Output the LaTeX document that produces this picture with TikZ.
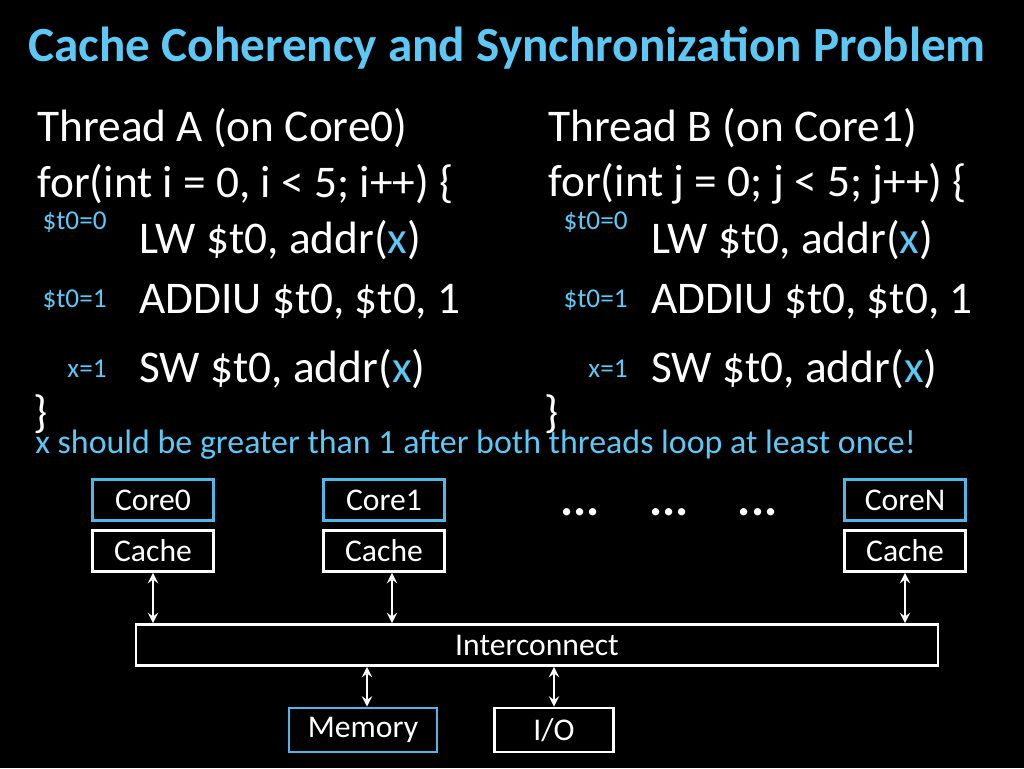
\documentclass[tikz,border=0pt]{standalone}
\usepackage{fontspec}
\setmainfont{Carlito}
\usetikzlibrary{positioning}
\definecolor{titleblue}{HTML}{5BC8F5}
\definecolor{boxblue}{HTML}{4FB8E8}
\begin{document}
\begin{tikzpicture}[x=0.02cm,y=-0.02cm,
  code/.style={anchor=west,text=white,font=\fontsize{25.8}{28}\selectfont,inner sep=0pt},
  reg/.style={anchor=east,text=titleblue,font=\fontsize{15.5}{17}\selectfont,inner sep=0pt},
  box/.style={draw=white,line width=1.5pt,text=white,font=\fontsize{18}{20}\selectfont,inner sep=0pt,minimum height=0.82cm},
  bbox/.style={box,draw=boxblue},
  link/.style={<->,>=stealth,white,line width=1.6pt}]
\fill[black] (0,0) rectangle (1024,768);
\node[anchor=west,text=titleblue,font=\bfseries\fontsize{28}{30}\selectfont,inner sep=0pt] (title) at (28,48) {Cache Coherency and Synchronization Problem};
% thread A
\node[code] (ta) at (37,128) {Thread A (on Core0)};
\node[code] (fa) at (37,184) {for(int i = 0, i < 5; i++) \{};
\node[code] (la) at (139,240) {LW \$t0, addr(\textcolor{titleblue}{x})};
\node[code] (aa) at (139,302) {ADDIU \$t0, \$t0, 1};
\node[code] (sa) at (139,369) {SW \$t0, addr(\textcolor{titleblue}{x})};
\node[code] (ca) at (33,414) {\}};
\node[reg] (ra1) at (107,222) {\$t0=0};
\node[reg] (ra2) at (107,300) {\$t0=1};
\node[reg] (ra3) at (107,369) {x=1};
% thread B
\node[code] (tb) at (548,128) {Thread B (on Core1)};
\node[code] (fb) at (548,184) {for(int j = 0; j < 5; j++) \{};
\node[code] (lb) at (651,240) {LW \$t0, addr(\textcolor{titleblue}{x})};
\node[code] (ab) at (651,302) {ADDIU \$t0, \$t0, 1};
\node[code] (sb) at (651,369) {SW \$t0, addr(\textcolor{titleblue}{x})};
\node[code] (cb) at (544,414) {\}};
\node[reg] (rb1) at (628,222) {\$t0=0};
\node[reg] (rb2) at (628,300) {\$t0=1};
\node[reg] (rb3) at (628,369) {x=1};
\node[anchor=west,text=titleblue,font=\fontsize{19.3}{21}\selectfont,inner sep=0pt] (note) at (35,445) {x should be greater than 1 after both threads loop at least once!};
% hardware
\node[bbox,minimum width=2.42cm] (core0) at (153,500) {Core0};
\node[box,minimum width=2.42cm] (cache0) at (153,551) {Cache};
\node[bbox,minimum width=2.42cm] (core1) at (384,500) {Core1};
\node[box,minimum width=2.42cm] (cache1) at (384,551) {Cache};
\node[bbox,minimum width=2.42cm] (coren) at (905,500) {CoreN};
\node[box,minimum width=2.42cm] (cachen) at (905,551) {Cache};
\node[text=white,font=\bfseries\fontsize{28}{30}\selectfont] (dots) at (669,512) {...\quad...\quad...};
\node[box,minimum width=16.04cm] (ic) at (537,645) {Interconnect};
\node[bbox,minimum width=2.96cm,minimum height=0.88cm] (mem) at (363,730) {Memory};
\node[box,minimum width=2.38cm,minimum height=0.88cm] (io) at (554,730) {I/O};
\draw[link] (cache0.south) -- (cache0.south |- ic.north);
\draw[link] (cache1.south) ++(8,0) coordinate (c1) -- (c1 |- ic.north);
\draw[link] (cachen.south) -- (cachen.south |- ic.north);
\draw[link] (mem.north) ++(4,0) coordinate (m1) -- (m1 |- ic.south);
\draw[link] (io.north) -- (io.north |- ic.south);
\end{tikzpicture}
\end{document}
